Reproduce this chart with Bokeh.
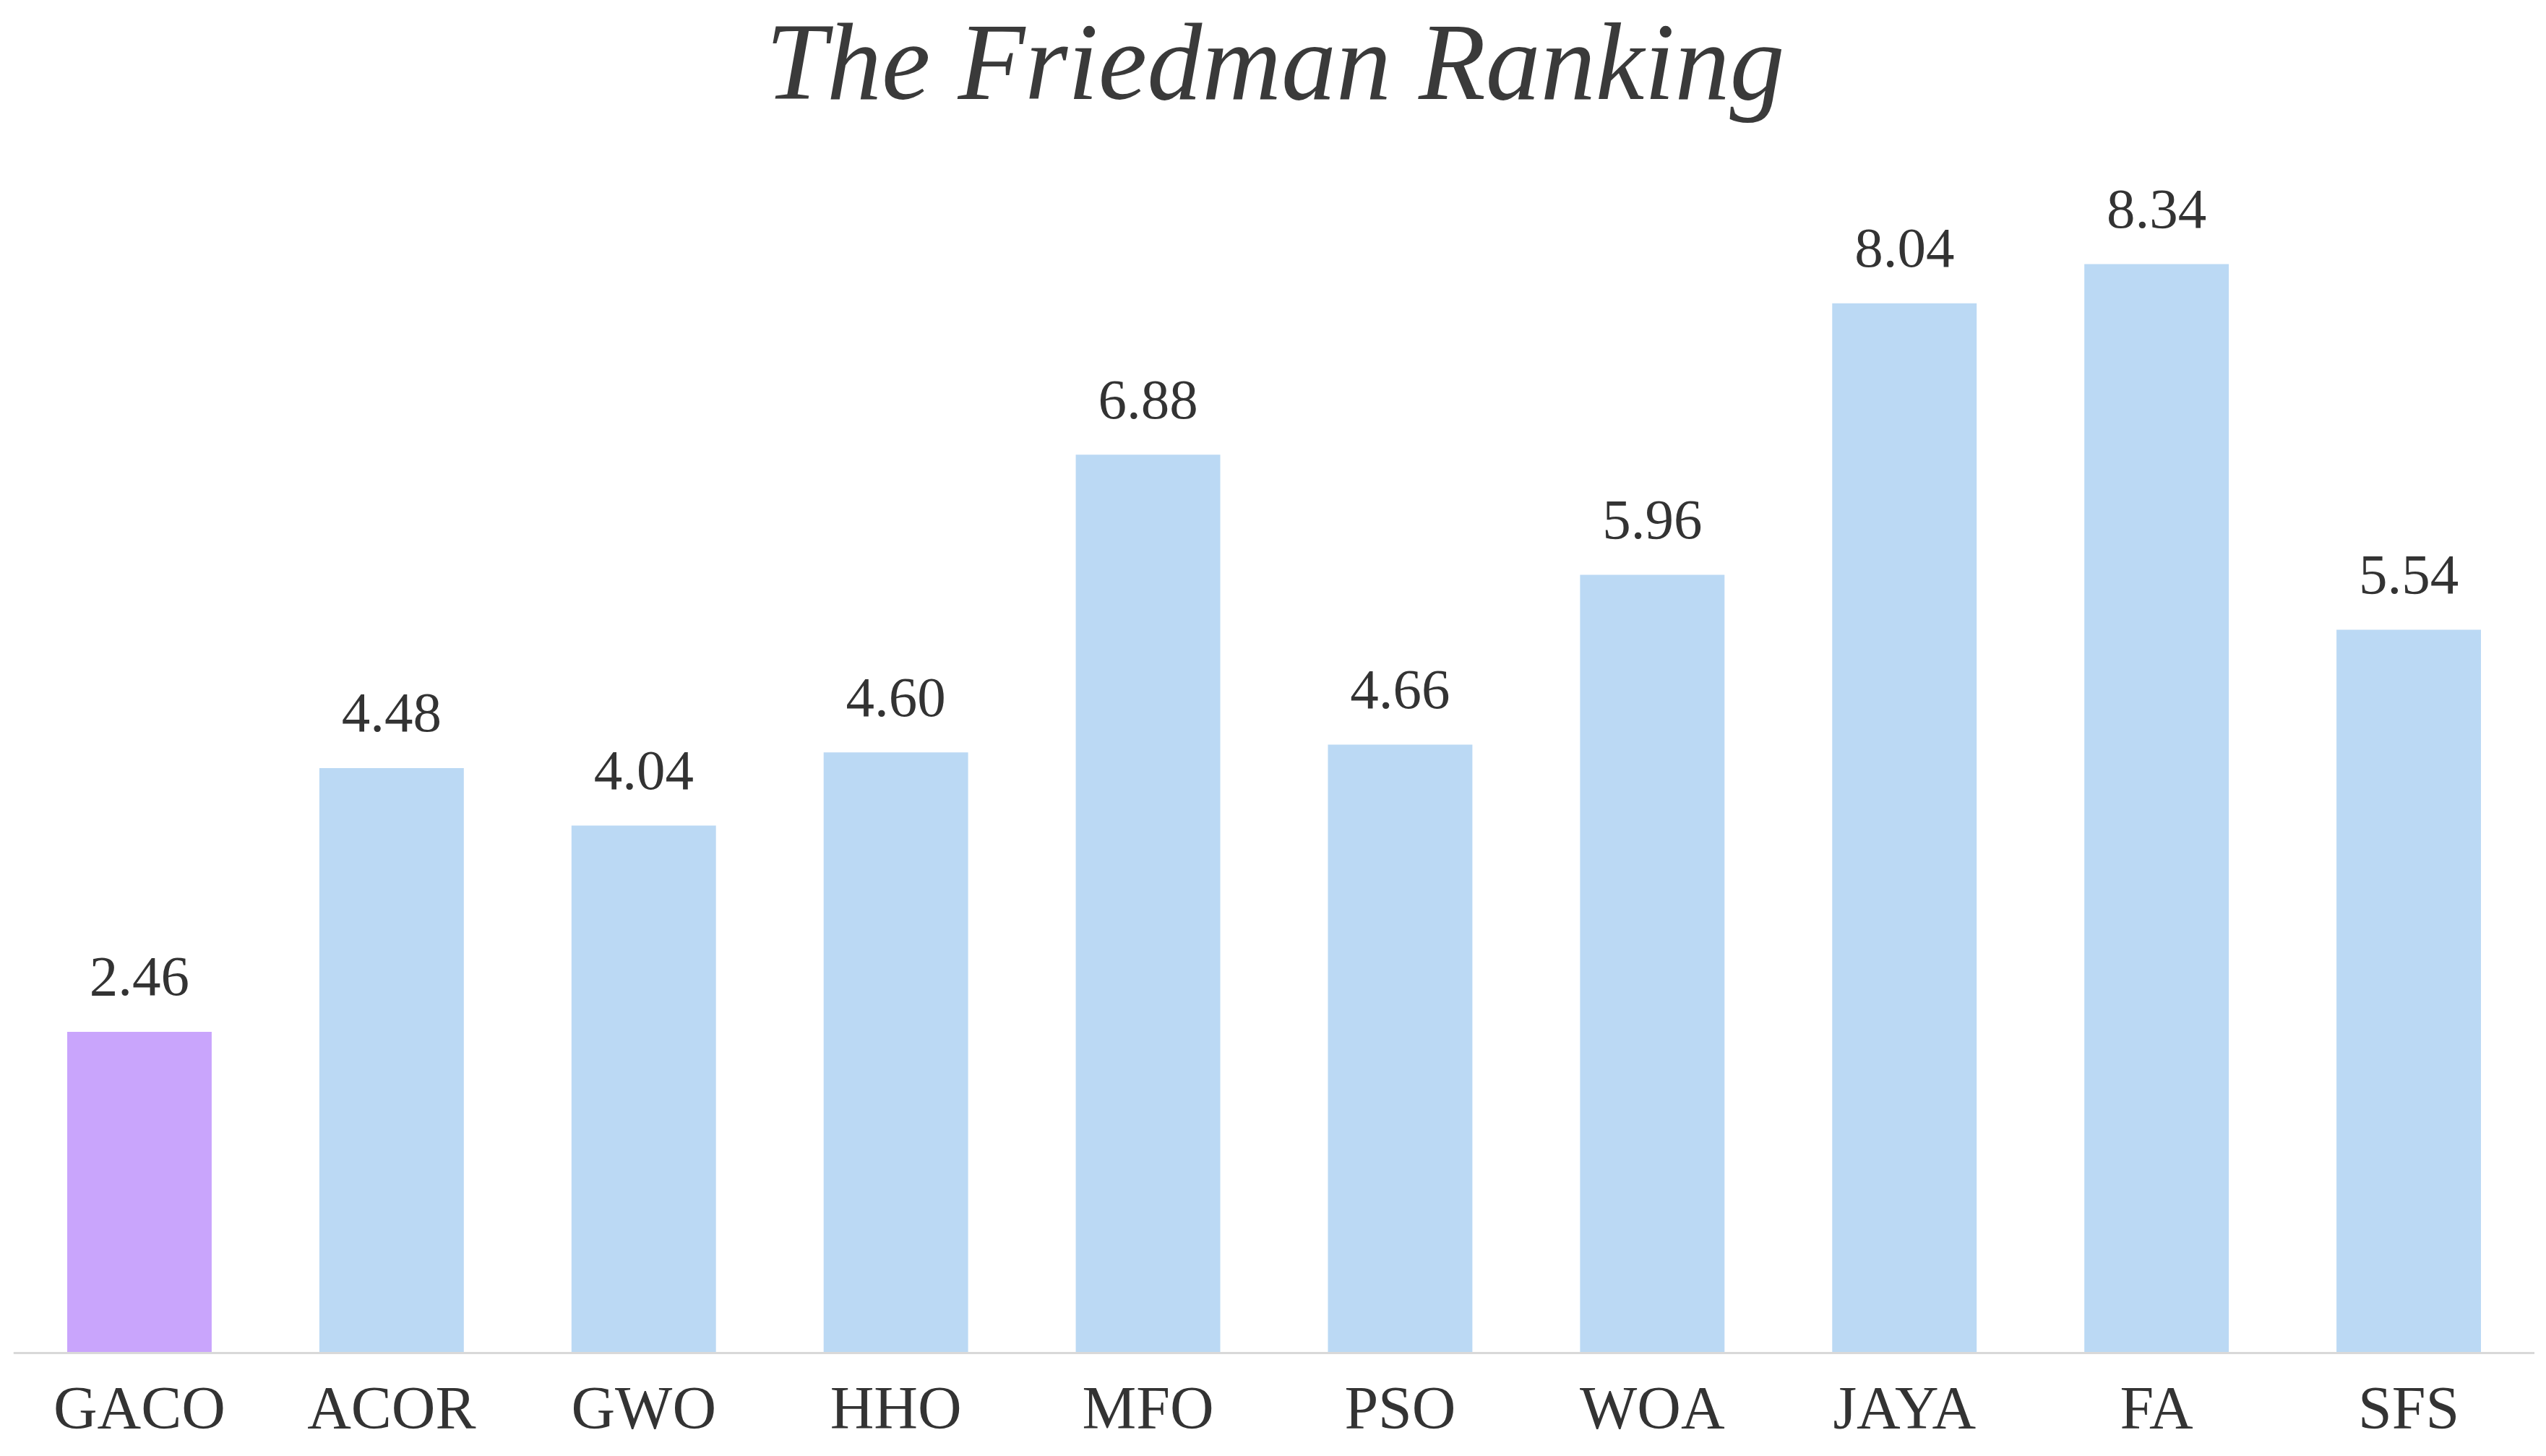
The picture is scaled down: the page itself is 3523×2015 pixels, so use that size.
from bokeh.plotting import figure
from bokeh.models import Range1d, ColumnDataSource, Label
from bokeh.embed import file_html
from bokeh.resources import INLINE
from bokeh.core.properties import value

algorithms = ["GACO", "ACOR", "GWO", "HHO", "MFO", "PSO", "WOA", "JAYA", "FA", "SFS"]
rankings = [2.46, 4.48, 4.04, 4.60, 6.88, 4.66, 5.96, 8.04, 8.34, 5.54]
bar_colors = ["#C9A5FC"] + ["#BBD9F4"] * 9
labels = ["%.2f" % v for v in rankings]
title_text = "The Friedman Ranking"

src = ColumnDataSource(dict(x=algorithms, top=rankings, color=bar_colors, label=labels))

p = figure(x_range=algorithms, y_range=Range1d(-0.703, 10.36), width=3507, height=1999,
           output_backend="svg", toolbar_location=None,
           min_border_left=18, min_border_right=0, min_border_top=0, min_border_bottom=0)

p.vbar(x="x", top="top", width=0.573, color="color", source=src, line_color=None)
p.text(x="x", y="top", text="label", source=src, text_align="center",
       text_baseline="alphabetic", y_offset=-76,
       text_font=value("Liberation Serif"), text_font_size="79px", text_color="#333333")

title = Label(x=1746, y=1914, x_units="screen", y_units="screen", text=title_text,
              text_align="center", text_baseline="alphabetic",
              text_font="Liberation Serif", text_font_style="italic",
              text_font_size="152px", text_color="#3a3a3a")
p.add_layout(title)

p.yaxis.visible = False
p.xgrid.visible = False
p.ygrid.visible = False
p.outline_line_color = None
p.xaxis.fixed_location = 0
p.xaxis.axis_line_color = "#D9D9D9"
p.xaxis.axis_line_width = 3
p.xaxis.major_tick_line_color = None
p.xaxis.minor_tick_line_color = None
p.xaxis.major_label_text_font = "Liberation Serif"
p.xaxis.major_label_text_font_size = "84px"
p.xaxis.major_label_text_color = "#333333"
p.xaxis.major_label_standoff = 24

open("out.html", "w").write(file_html(p, INLINE))
